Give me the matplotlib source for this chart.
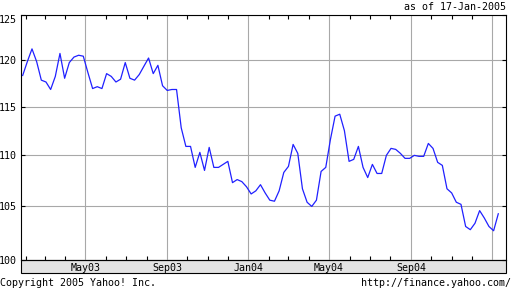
import pandas as pd
import matplotlib
matplotlib.use('Agg')
import matplotlib.pyplot as plt
import matplotlib.dates as mdates
from matplotlib.patches import Rectangle
from matplotlib.ticker import FixedLocator, FixedFormatter, NullLocator

# weekly closes (Jan 2003 - Jan 2005)
prices = [118.3, 119.8, 121.2, 119.8, 117.8, 117.6, 116.8, 118.2, 120.7, 118.0,
          119.7, 120.3, 120.5, 120.4, 118.6, 116.9, 117.1, 116.9, 118.5, 118.2,
          117.6, 117.9, 119.7, 118.0, 117.8, 118.4, 119.3, 120.2, 118.5, 119.4,
          117.2, 116.7, 116.8, 116.8, 112.8, 110.9, 110.9, 108.8, 110.3, 108.5,
          110.8, 108.8, 108.8, 109.1, 109.4, 107.3, 107.6, 107.4, 106.9, 106.2,
          106.5, 107.1, 106.3, 105.6, 105.5, 106.5, 108.3, 108.9, 111.1, 110.2,
          106.7, 105.4, 105.0, 105.6, 108.4, 108.8, 111.6, 114.0, 114.2, 112.5,
          109.4, 109.6, 110.9, 108.8, 107.8, 109.1, 108.2, 108.2, 110.0, 110.7,
          110.6, 110.2, 109.7, 109.7, 110.0, 109.9, 109.9, 111.2, 110.7, 109.3,
          109.0, 106.7, 106.3, 105.4, 105.2, 103.1, 102.8, 103.4, 104.6, 103.9,
          103.1, 102.7, 104.3]
weeks = pd.date_range('2003-01-27', periods=len(prices), freq='7D')

y_ticks = [100, 105, 110, 115, 120, 125]
x_ticks = ['2003-05-01', '2003-09-01', '2004-01-01', '2004-05-01', '2004-09-01', '2005-01-01']
x_labels = ['May03', 'Sep03', 'Jan04', 'May04', 'Sep04', '']

plt.rcParams['font.family'] = 'DejaVu Sans Mono'
fs = 7.2

fig = plt.figure(figsize=(5.12, 2.88), dpi=100)
ax = fig.add_axes([21/512, 28/288, 485/512, 245/288])
ax.set_axisbelow(True)

ax.plot(weeks, prices, color='#2020ff', lw=0.9, zorder=3)

ax.set_yscale('log')
ax.set_ylim(100, 125)
ax.yaxis.set_major_locator(FixedLocator(y_ticks))
ax.yaxis.set_major_formatter(FixedFormatter([str(v) for v in y_ticks]))
ax.yaxis.set_minor_locator(NullLocator())

ax.set_xlim(pd.Timestamp('2003-01-24 12:00'), pd.Timestamp('2005-01-21 14:00'))
ax.set_xticks(pd.to_datetime(x_ticks))
ax.set_xticklabels(x_labels)
ax.xaxis.set_minor_locator(mdates.MonthLocator())

ax.grid(True, which='major', color='#a8a8a8', lw=0.8)
ax.tick_params(axis='x', which='major', length=0, pad=2.5, labelsize=fs)
ax.tick_params(axis='x', which='minor', direction='in', length=3, width=0.8,
               top=True, bottom=True)
ax.tick_params(axis='y', which='major', direction='in', length=3, width=0.8,
               left=True, right=True, labelsize=fs, pad=3)
ax.yaxis.get_major_ticks()[-1].label1.set_va('top')

for s in ax.spines.values():
    s.set_linewidth(0.8)

# grey date band under the plot
band = Rectangle((0, -13/245), 1, 13/245, transform=ax.transAxes,
                 facecolor='#e3e3e3', edgecolor='black', lw=0.8,
                 clip_on=False, zorder=0.2)
ax.add_patch(band)

fig.text(506/512, 1 - 7/288, 'as of 17-Jan-2005', ha='right', va='center', fontsize=fs)
fig.text(0.5/512, 1 - 283/288, 'Copyright 2005 Yahoo! Inc.', ha='left', va='center', fontsize=fs)
fig.text(511/512, 1 - 283/288, 'http://finance.yahoo.com/', ha='right', va='center', fontsize=fs)

fig.savefig('out.png', dpi=100)
